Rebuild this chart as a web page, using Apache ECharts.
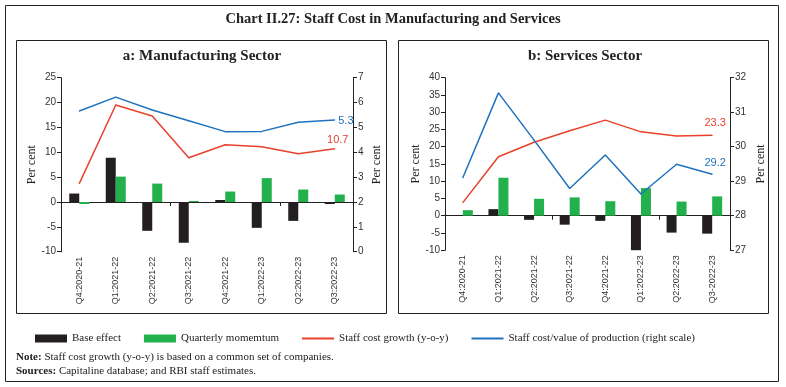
<!DOCTYPE html>
<html><head><meta charset="utf-8">
<script src="https://cdn.jsdelivr.net/npm/echarts@6/dist/echarts.min.js"></script>
<style>html,body{margin:0;padding:0;background:#fff}#c{width:786px;height:387px}</style>
</head><body><div id="c"></div>
<script>
const categoriesA = ['Q4:2020-21','Q1:2021-22','Q2:2021-22','Q3:2021-22','Q4:2021-22','Q1:2022-23','Q2:2022-23','Q3:2022-23'];
const categoriesB = ['Q4:2020-21','Q1:2021-22','Q2:2021-22','Q3:2021-22','Q4:2021-22','Q1:2022-23','Q2:2022-23','Q3-2022-23'];
const mfgBase = [1.7, 8.9, -5.8, -8.2, 0.4, -5.2, -3.8, -0.4];
const mfgMomentum = [-0.4, 5.1, 3.7, 0.2, 2.1, 4.8, 2.5, 1.5];
const mfgGrowth = [3.7, 19.5, 17.3, 8.9, 11.5, 11.1, 9.7, 10.7];
const mfgRatio = [5.66, 6.22, 5.70, 5.27, 4.83, 4.84, 5.21, 5.3];
const svcBase = [0, 1.9, -1.2, -2.6, -1.5, -10.2, -4.9, -5.2];
const svcMomentum = [1.6, 11.0, 4.9, 5.3, 4.2, 8.0, 4.1, 5.6];
const svcGrowth = [3.8, 17.1, 21.3, 24.6, 27.7, 24.3, 23.1, 23.3];
const svcRatio = [29.10, 31.56, 30.19, 28.79, 29.76, 28.63, 29.49, 29.2];
const names = ['Base effect','Quarterly momemtum','Staff cost growth (y-o-y)','Staff cost/value of production (right scale)'];

const BLACK = '#231f20', GREEN = '#22b14c', RED = '#e8412c', BLUE = '#1f72bd';
const SERIF = '"Liberation Serif", "DejaVu Serif", serif';
const SANS = '"Liberation Sans", Arial, sans-serif';

function lastLabel(arr, color, pos, offset) {
  return arr.map((v, i) => i === arr.length - 1 ? {
    value: v,
    label: { show: true, position: pos, offset: offset, distance: 3, color: color,
      fontFamily: SANS, fontSize: 11, formatter: (p) => p.value.toFixed(1) }
  } : v);
}
function labelAxis(grid, cats) {
  return { type: 'category', gridIndex: grid, data: cats, position: 'bottom',
    axisLine: { show: false }, axisTick: { show: false },
    axisLabel: { rotate: 90, interval: 0, fontSize: 9, fontFamily: SANS, color: '#333', margin: 5 } };
}
function zeroAxis(grid, cats, yIdx) {
  return { type: 'category', gridIndex: grid, data: cats, position: 'bottom',
    axisLine: { show: true, onZero: true, onZeroAxisIndex: yIdx, lineStyle: { color: '#222', width: 1 } },
    axisTick: { show: true, length: 4, lineStyle: { color: '#222' } },
    axisLabel: { show: false } };
}
function valAxis(grid, pos, min, max, interval, gap) {
  return { type: 'value', gridIndex: grid, position: pos, min: min, max: max, interval: interval,
    name: 'Per cent', nameLocation: 'middle', nameGap: gap,
    nameTextStyle: { fontFamily: SERIF, fontSize: 12, color: '#222' },
    axisLine: { show: true, lineStyle: { color: '#222' } },
    axisTick: { show: true, length: 4, lineStyle: { color: '#222' } },
    axisLabel: { fontSize: 10, fontFamily: SANS, color: '#333', margin: 5 },
    splitLine: { show: false } };
}
function lineSeries(name, xi, yi, data, color) {
  return { name: name, type: 'line', xAxisIndex: xi, yAxisIndex: yi, data: data,
    symbol: 'circle', symbolSize: 1, showSymbol: true,
    lineStyle: { color: color, width: 1.5 }, itemStyle: { color: color } };
}

const chart = echarts.init(document.getElementById('c'), null, { renderer: 'canvas' });
chart.setOption({
  animation: false,
  grid: [
    { left: 61, width: 292, top: 77.7, height: 174 },
    { left: 445, width: 285, top: 77.7, height: 172.5 }
  ],
  xAxis: [ labelAxis(0, categoriesA), zeroAxis(0, categoriesA, 0), labelAxis(1, categoriesB), zeroAxis(1, categoriesB, 2) ],
  yAxis: [
    valAxis(0, 'left', -10, 25, 5, 22), valAxis(0, 'right', 0, 7, 1, 18),
    valAxis(1, 'left', -10, 40, 5, 18), valAxis(1, 'right', 27, 32, 1, 25)
  ],
  legend: {
    left: 30, top: 328, itemWidth: 32, itemHeight: 8, itemGap: 23,
    textStyle: { fontFamily: SERIF, fontSize: 11, color: '#222' },
    data: [
      { name: names[0], icon: 'rect' },
      { name: names[1], icon: 'rect' },
      { name: names[2], icon: 'path://M0,0H32V2H0Z' },
      { name: names[3], icon: 'path://M0,0H32V2H0Z' }
    ]
  },
  series: [
    { name: names[0], type: 'bar', xAxisIndex: 0, yAxisIndex: 0, data: mfgBase, barWidth: 10, barGap: '0%', itemStyle: { color: BLACK } },
    { name: names[1], type: 'bar', xAxisIndex: 0, yAxisIndex: 0, data: mfgMomentum, barWidth: 10, barGap: '0%', itemStyle: { color: GREEN } },
    lineSeries(names[2], 0, 0, lastLabel(mfgGrowth, RED, 'top', [3, 0]), RED),
    lineSeries(names[3], 0, 1, lastLabel(mfgRatio, BLUE, 'right', [0, 1]), BLUE),
    { name: names[0], type: 'bar', xAxisIndex: 2, yAxisIndex: 2, data: svcBase, barWidth: 10, barGap: '0%', itemStyle: { color: BLACK } },
    { name: names[1], type: 'bar', xAxisIndex: 2, yAxisIndex: 2, data: svcMomentum, barWidth: 10, barGap: '0%', itemStyle: { color: GREEN } },
    lineSeries(names[2], 2, 2, lastLabel(svcGrowth, RED, 'top', [3, -3]), RED),
    lineSeries(names[3], 2, 3, lastLabel(svcRatio, BLUE, 'top', [3, -2]), BLUE)
  ],
  graphic: [
    { type: 'rect', shape: { x: 5.5, y: 5.5, width: 773, height: 376 }, style: { fill: 'none', stroke: '#222', lineWidth: 1 }, silent: true },
    { type: 'rect', shape: { x: 16.5, y: 40.5, width: 370, height: 273 }, style: { fill: 'none', stroke: '#222', lineWidth: 1 }, silent: true },
    { type: 'rect', shape: { x: 398.5, y: 40.5, width: 370, height: 273 }, style: { fill: 'none', stroke: '#222', lineWidth: 1 }, silent: true },
    { type: 'text', x: 393, y: 19, style: { text: 'Chart II.27: Staff Cost in Manufacturing and Services', align: 'center', verticalAlign: 'middle', fontFamily: SERIF, fontWeight: 'bold', fontSize: 14.5, fill: '#222' } },
    { type: 'text', x: 202, y: 56, style: { text: 'a: Manufacturing Sector', align: 'center', verticalAlign: 'middle', fontFamily: SERIF, fontWeight: 'bold', fontSize: 15, fill: '#222' } },
    { type: 'text', x: 585, y: 56, style: { text: 'b: Services Sector', align: 'center', verticalAlign: 'middle', fontFamily: SERIF, fontWeight: 'bold', fontSize: 15, fill: '#222' } },
    { type: 'text', x: 16, y: 357, style: { text: '{b|Note:} Staff cost growth (y-o-y) is based on a common set of companies.', verticalAlign: 'middle', fontFamily: SERIF, fontSize: 11, fill: '#222', rich: { b: { fontWeight: 'bold', fontFamily: SERIF, fontSize: 11, fill: '#222' } } } },
    { type: 'text', x: 16, y: 371, style: { text: '{b|Sources:} Capitaline database; and RBI staff estimates.', verticalAlign: 'middle', fontFamily: SERIF, fontSize: 11, fill: '#222', rich: { b: { fontWeight: 'bold', fontFamily: SERIF, fontSize: 11, fill: '#222' } } } }
  ]
});
</script></body></html>
